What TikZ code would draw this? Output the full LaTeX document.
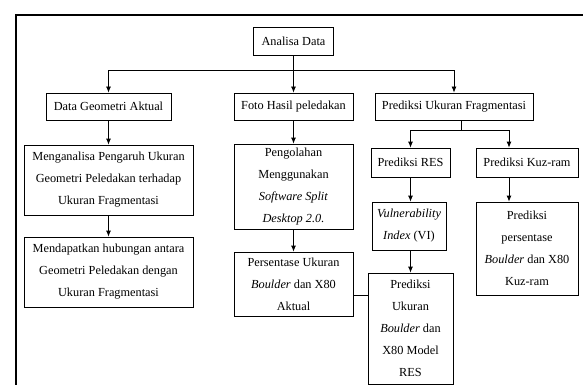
\documentclass[tikz,border=0pt]{standalone}
\usepackage{fontspec}
\setmainfont{Liberation Serif}
\usetikzlibrary{arrows.meta}
\begin{document}
\begin{tikzpicture}[x=1pt,y=-1pt,
  box/.style={draw, line width=0.8pt, inner sep=0pt, align=center,
    font=\fontsize{12.3}{22}\selectfont},
  arr/.style={line width=0.8pt, -{Latex[length=6pt,width=5pt]}},
  ln/.style={line width=0.8pt}]
\useasboundingbox (0,0) rectangle (583,385);
\draw[line width=2pt] (16,385) -- (16,15) -- (583,15);
% nodes
\node[box, minimum width=80pt, minimum height=28pt] (ad) at (293.5,41) {Analisa Data};
\node[box, minimum width=125pt, minimum height=27pt] (dg) at (108.5,106.5) {Data Geometri Aktual};
\node[box, minimum width=119pt, minimum height=27pt] (fh) at (293.5,106.5) {Foto Hasil peledakan};
\node[box, minimum width=158pt, minimum height=27pt] (puf) at (454,106.5) {Prediksi Ukuran Fragmentasi};
\node[box, minimum width=169pt, minimum height=70pt] (mg) at (108.5,180) {Menganalisa Pengaruh Ukuran\\Geometri Peledakan terhadap\\Ukuran Fragmentasi};
\node[box, minimum width=169pt, minimum height=70pt] (md) at (108.5,272) {Mendapatkan hubungan antara\\Geometri Peledakan dengan\\Ukuran Fragmentasi};
\node[box, minimum width=119pt, minimum height=85pt] (po) at (293.5,186.5) {Pengolahan\\Menggunakan\\\textit{Software Split}\\\textit{Desktop 2.0.}};
\node[box, minimum width=119pt, minimum height=64pt] (pa) at (293.5,284) {Persentase Ukuran\\\textit{Boulder} dan X80\\Aktual};
\node[box, minimum width=79pt, minimum height=29pt] (res) at (410.5,162.5) {Prediksi RES};
\node[box, minimum width=102pt, minimum height=29pt] (kr) at (527,162.5) {Prediksi Kuz-ram};
\node[box, minimum width=74pt, minimum height=48pt] (vi) at (409,226) {\textit{Vulnerability}\\\textit{Index} (VI)};
\node[box, minimum width=85pt, minimum height=111pt] (pub) at (410.5,328.5) {Prediksi\\Ukuran\\\textit{Boulder} dan\\X80 Model\\RES};
\node[box, minimum width=102pt, minimum height=93pt] (kp) at (527,248.5) {Prediksi\\persentase\\\textit{Boulder} dan X80\\Kuz-ram};
% junctions
\coordinate (j1) at (293.5,70);
\coordinate (j2) at (461,130);
\coordinate (kx) at (509,0);
% connectors
\draw[ln] (ad.south) -- (j1);
\draw[arr] (j1) -| (dg.north);
\draw[arr] (j1) -- (fh.north);
\draw[arr] (j1) -| (puf.north);
\draw[arr] (dg.south) -- (mg.north);
\draw[arr] (mg.south) -- (md.north);
\draw[arr] (fh.south) -- (po.north);
\draw[arr] (po.south) -- (pa.north);
\draw[ln] (puf.south -| j2) -- (j2);
\draw[arr] (j2) -| (res.north);
\draw[arr] (j2) -| (kr.north -| kx);
\draw[arr] (res.south) -- (vi.north -| res.south);
\draw[arr] (vi.south -| pub.north) -- (pub.north);
\draw[arr] (kr.south -| kx) -- (kp.north -| kx);
\draw[ln] ([yshift=-11pt]pa.east) -- ([yshift=-11pt]pa.east -| pub.west);
\end{tikzpicture}
\end{document}
